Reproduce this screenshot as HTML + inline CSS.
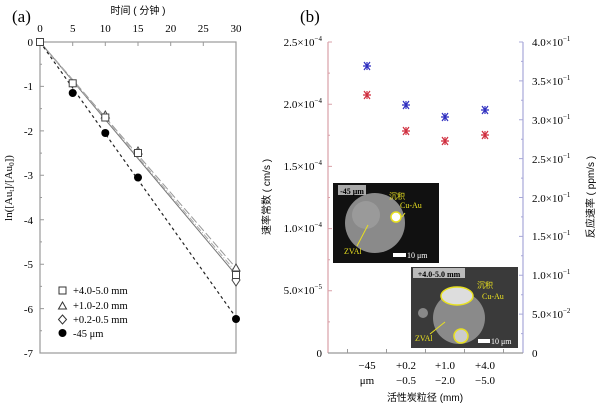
<!DOCTYPE html>
<html><head><meta charset="utf-8"><style>
body{margin:0;background:#fff}
svg{display:block;font-family:"Liberation Serif","Noto Serif CJK SC",serif}
.cn{font-family:"Liberation Sans","Noto Sans CJK SC",sans-serif}
</style></head><body>
<svg width="600" height="406" viewBox="0 0 600 406" xmlns="http://www.w3.org/2000/svg">
<!-- Panel a -->
<text x="12" y="22" font-size="17">(a)</text>
<text x="138" y="14" font-size="10" class="cn" text-anchor="middle">时间 ( 分钟 )</text>
<g font-size="11" text-anchor="middle">
<text x="40" y="32">0</text><text x="72.7" y="32">5</text><text x="105.3" y="32">10</text><text x="138" y="32">15</text><text x="170.7" y="32">20</text><text x="203.3" y="32">25</text><text x="236" y="32">30</text>
</g>
<g font-size="11" text-anchor="end">
<text x="33" y="46">0</text><text x="33" y="90">-1</text><text x="33" y="135">-2</text><text x="33" y="179">-3</text><text x="33" y="224">-4</text><text x="33" y="268">-5</text><text x="33" y="313">-6</text><text x="33" y="357">-7</text>
</g>
<text transform="translate(12,188) rotate(-90)" font-size="11" text-anchor="middle">ln([Au<tspan font-size="7" dy="2">t</tspan><tspan dy="-2">]/[Au</tspan><tspan font-size="7" dy="2">0</tspan><tspan dy="-2">])</tspan></text>
<rect x="40" y="42" width="196" height="311" fill="none" stroke="#999" stroke-width="1.2"/>
<g stroke="#999" stroke-width="1">
<path d="M40 42v4M72.7 42v4M105.3 42v4M138 42v4M170.7 42v4M203.3 42v4"/>
<path d="M40 86.4h4M40 130.9h4M40 175.3h4M40 219.7h4M40 264.2h4M40 308.6h4M40 64.2h2M40 108.6h2M40 153.1h2M40 197.5h2M40 241.9h2M40 286.4h2M40 330.8h2"/>
</g>
<g fill="none">
<line x1="40" y1="42" x2="236" y2="275" stroke="#777" stroke-width="1"/>
<line x1="40" y1="42" x2="236" y2="268" stroke="#999" stroke-width="1" stroke-dasharray="8,3"/>
<line x1="40" y1="42" x2="236" y2="272" stroke="#aaa" stroke-width="1" stroke-dasharray="6,2,1,2"/>
<line x1="40" y1="42" x2="236" y2="317.5" stroke="#222" stroke-width="1.2" stroke-dasharray="3,3"/>
</g>
<g fill="#fff" stroke="#444" stroke-width="1">
<path d="M105.3 111l4 7h-8z"/><path d="M138 147l4 7h-8z"/><path d="M236 264l4 7h-8z"/>
<path d="M236 274l4 6-4 6-4-6z"/>
<rect x="36.5" y="38.5" width="7" height="7"/><rect x="69.2" y="79.8" width="7" height="7"/><rect x="101.8" y="114" width="7" height="7"/><rect x="134.5" y="149.5" width="7" height="7"/><rect x="232.5" y="271.5" width="7" height="7"/>
</g>
<g fill="#000"><circle cx="72.7" cy="93" r="4"/><circle cx="105.3" cy="133" r="4"/><circle cx="138" cy="177.5" r="4"/><circle cx="236" cy="319" r="4"/></g>
<g font-size="10.5">
<rect x="59" y="287" width="7" height="7" fill="none" stroke="#333"/><text x="73" y="294">+4.0-5.0 mm</text>
<path d="M62.5 302l4 7h-8z" fill="none" stroke="#333"/><text x="73" y="309">+1.0-2.0 mm</text>
<path d="M62.5 315l4 4.5-4 4.5-4-4.5z" fill="none" stroke="#333"/><text x="73" y="323">+0.2-0.5 mm</text>
<circle cx="62.5" cy="333" r="4"/><text x="73" y="337">-45 μm</text>
</g>
<!-- Panel b -->
<text x="300" y="22" font-size="17">(b)</text>
<line x1="328" y1="42" x2="328" y2="353" stroke="#d9a0a8" stroke-width="1.2"/>
<line x1="523" y1="42" x2="523" y2="353" stroke="#a8a8d8" stroke-width="1.2"/>
<line x1="328" y1="353" x2="523" y2="353" stroke="#999" stroke-width="1.2"/>
<g stroke="#d9a0a8"><path d="M328 42h4M328 73.1h2M328 104.2h4M328 135.3h2M328 166.4h4M328 197.5h2M328 228.6h4M328 259.7h2M328 290.8h4M328 321.9h2"/></g>
<g stroke="#a8a8d8"><path d="M523 42h-4M523 61.4h-2M523 80.9h-4M523 100.3h-2M523 119.8h-4M523 139.2h-2M523 158.6h-4M523 178.1h-2M523 197.5h-4M523 216.9h-2M523 236.4h-4M523 255.8h-2M523 275.3h-4M523 294.7h-2M523 314.1h-4M523 333.6h-2"/></g>
<g stroke="#999"><path d="M347.5 353v-4M386.5 353v-4M425.5 353v-4M464.5 353v-4M503.5 353v-4"/></g>
<g font-size="11" text-anchor="end">
<text x="322" y="46">2.5×10<tspan font-size="7" dy="-5">−4</tspan></text>
<text x="322" y="108">2.0×10<tspan font-size="7" dy="-5">−4</tspan></text>
<text x="322" y="170">1.5×10<tspan font-size="7" dy="-5">−4</tspan></text>
<text x="322" y="232">1.0×10<tspan font-size="7" dy="-5">−4</tspan></text>
<text x="322" y="294">5.0×10<tspan font-size="7" dy="-5">−5</tspan></text>
<text x="322" y="357">0</text>
</g>
<g font-size="11">
<text x="532" y="46">4.0×10<tspan font-size="7" dy="-5">−1</tspan></text>
<text x="532" y="85">3.5×10<tspan font-size="7" dy="-5">−1</tspan></text>
<text x="532" y="124">3.0×10<tspan font-size="7" dy="-5">−1</tspan></text>
<text x="532" y="163">2.5×10<tspan font-size="7" dy="-5">−1</tspan></text>
<text x="532" y="202">2.0×10<tspan font-size="7" dy="-5">−1</tspan></text>
<text x="532" y="240">1.5×10<tspan font-size="7" dy="-5">−1</tspan></text>
<text x="532" y="279">1.0×10<tspan font-size="7" dy="-5">−1</tspan></text>
<text x="532" y="318">5.0×10<tspan font-size="7" dy="-5">−2</tspan></text>
<text x="532" y="357">0</text>
</g>
<text transform="translate(270,197) rotate(-90)" font-size="10" class="cn" text-anchor="middle">速率常数 ( cm/s )</text>
<text transform="translate(594,197) rotate(-90)" font-size="10" class="cn" text-anchor="middle">反应速率 ( ppm/s )</text>
<g font-size="11" text-anchor="middle">
<text x="367" y="369">−45</text><text x="367" y="384">μm</text>
<text x="406" y="369">+0.2</text><text x="406" y="384">−0.5</text>
<text x="445" y="369">+1.0</text><text x="445" y="384">−2.0</text>
<text x="485" y="369">+4.0</text><text x="485" y="384">−5.0</text>
</g>
<text x="425" y="401" font-size="10" text-anchor="middle" class="cn">活性炭粒径 (mm)</text>
<g stroke="#3030c0" stroke-width="1.2" fill="none">
<path d="M363 66h8M364 62l6 8M370 62l-6 8M367 62v8"/>
<path d="M402 105h8M403 101l6 8M409 101l-6 8M406 101v8"/>
<path d="M441 117h8M442 113l6 8M448 113l-6 8M445 113v8"/>
<path d="M481 110h8M482 106l6 8M488 106l-6 8M485 106v8"/>
</g>
<g stroke="#d03040" stroke-width="1.2" fill="none">
<path d="M363 95h8M364 91l6 8M370 91l-6 8M367 91v8"/>
<path d="M402 131h8M403 127l6 8M409 127l-6 8M406 127v8"/>
<path d="M441 141h8M442 137l6 8M448 137l-6 8M445 137v8"/>
<path d="M481 135h8M482 131l6 8M488 131l-6 8M485 131v8"/>
</g>
<!-- inset 1 -->
<rect x="333" y="183" width="106" height="80" fill="#111"/>
<circle cx="375" cy="223" r="30" fill="#8a8a8a"/>
<circle cx="366" cy="215" r="14" fill="#9a9a9a"/>
<rect x="338" y="185" width="28" height="10" fill="#aaa"/>
<text x="352" y="194" font-size="8" font-weight="bold" text-anchor="middle">-45 μm</text>
<circle cx="396" cy="217" r="5" fill="#fff" stroke="#e8e020" stroke-width="1.5"/>
<text x="389" y="199" font-size="8" fill="#e8e020" class="cn">沉积</text>
<text x="400" y="208" font-size="8" fill="#e8e020">Cu-Au</text>
<text x="344" y="254" font-size="8" fill="#e8e020">ZVAl</text>
<line x1="357" y1="246" x2="368" y2="225" stroke="#e8e020"/>
<line x1="405" y1="213" x2="402" y2="217" stroke="#e8e020"/>
<rect x="393" y="253" width="13" height="4" fill="#fff"/>
<text x="407" y="258" font-size="8" fill="#fff">10 μm</text>
<!-- inset 2 -->
<rect x="411" y="267" width="107" height="81" fill="#3a3a3a"/>
<circle cx="459" cy="318" r="26" fill="#8a8a8a"/>
<circle cx="423" cy="313" r="5" fill="#888"/>
<rect x="413" y="268" width="52" height="10" fill="#bbb"/>
<text x="439" y="277" font-size="8" font-weight="bold" text-anchor="middle">+4.0-5.0 mm</text>
<ellipse cx="457" cy="296" rx="16" ry="9" fill="#ddd" stroke="#e8e020" stroke-width="1.5"/>
<circle cx="461" cy="336" r="7" fill="#ccc" stroke="#e8e020" stroke-width="1.5"/>
<text x="477" y="288" font-size="8" fill="#e8e020" class="cn">沉积</text>
<text x="482" y="299" font-size="8" fill="#e8e020">Cu-Au</text>
<text x="415" y="341" font-size="8" fill="#e8e020">ZVAl</text>
<line x1="430" y1="334" x2="445" y2="322" stroke="#e8e020"/>
<rect x="478" y="339" width="12" height="4" fill="#fff"/>
<text x="491" y="344" font-size="8" fill="#fff">10 μm</text>
</svg>
</body></html>
